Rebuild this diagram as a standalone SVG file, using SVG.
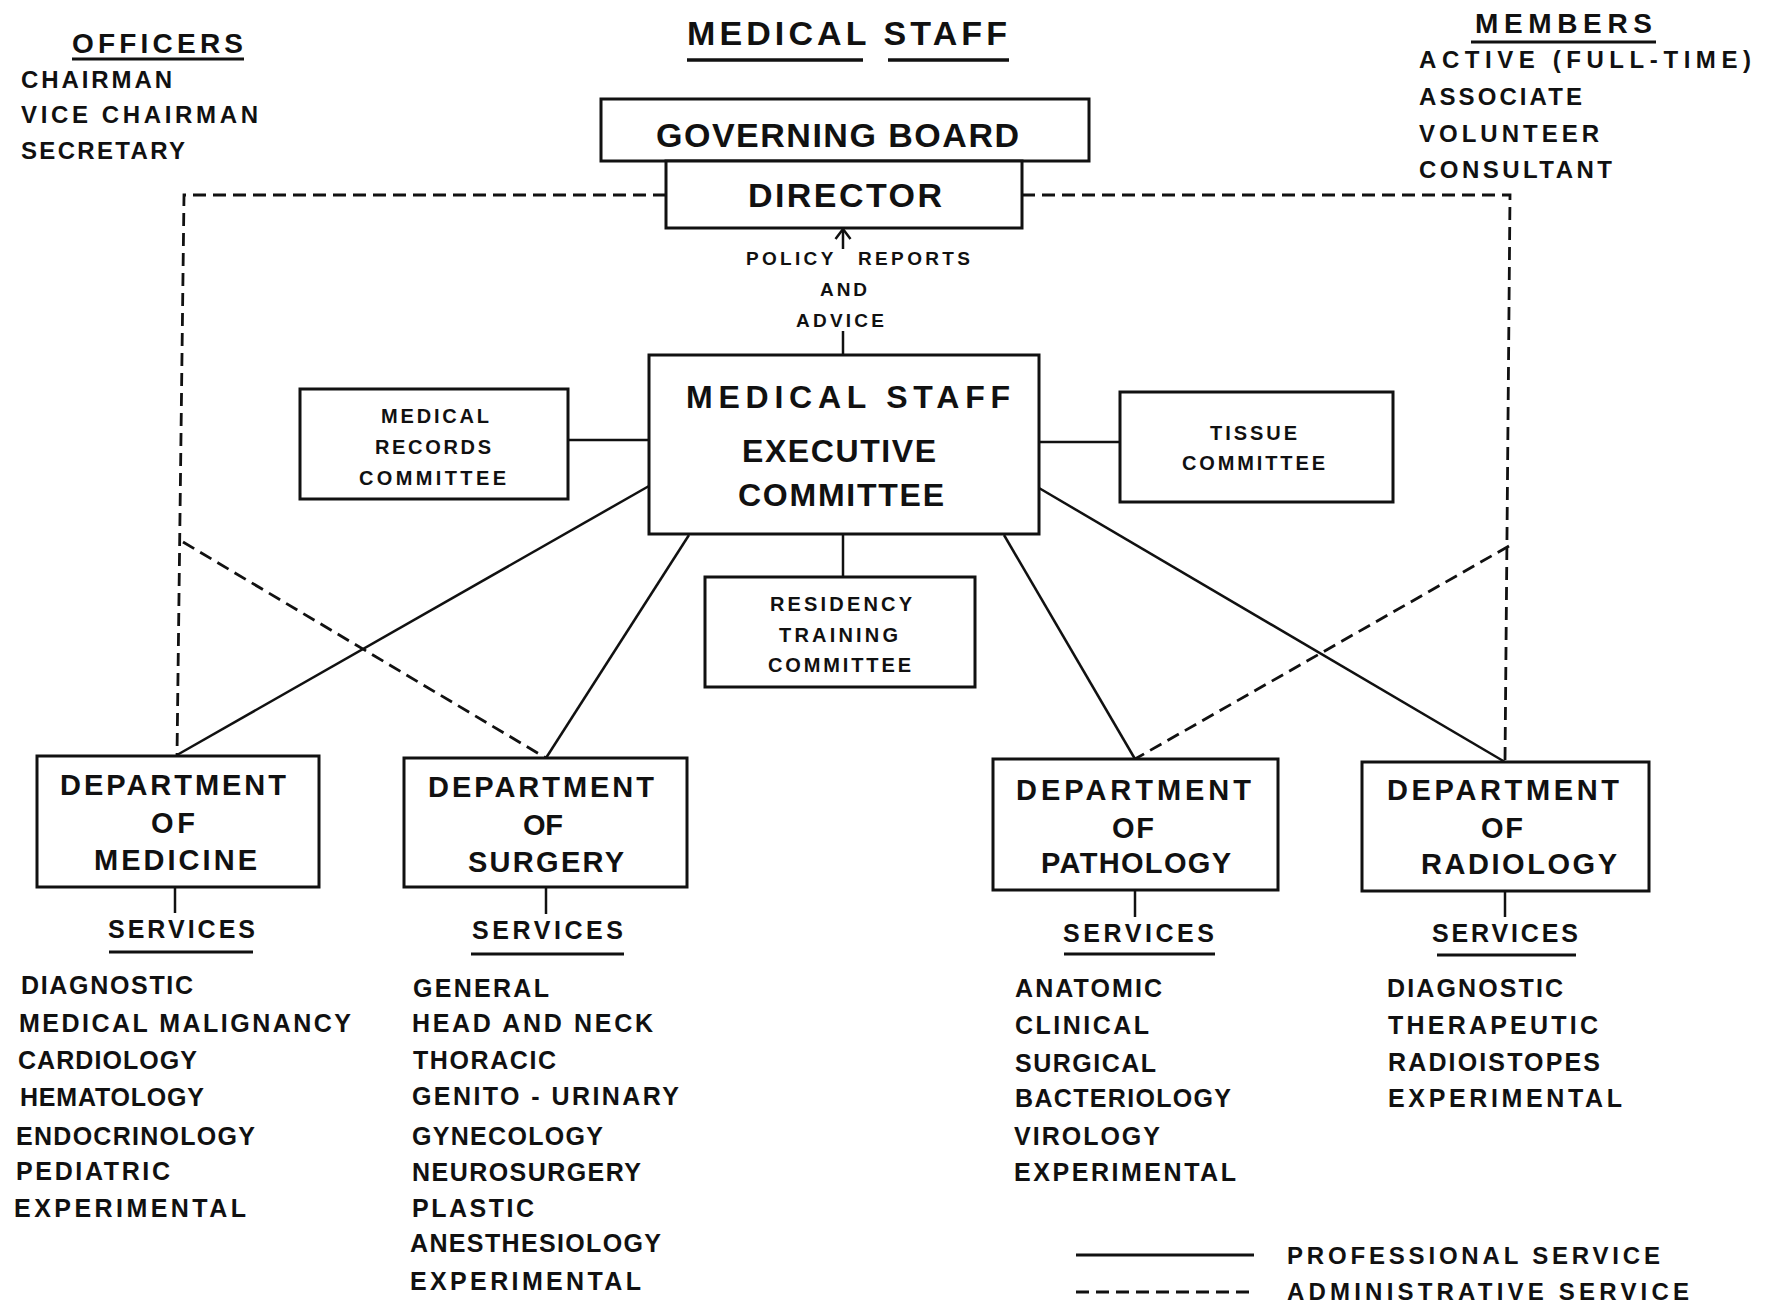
<svg xmlns="http://www.w3.org/2000/svg" width="1777" height="1302" viewBox="0 0 1777 1302">
<style>
text{font-family:"Liberation Sans",Arial,sans-serif;font-weight:bold;fill:#111}
.box{fill:#fff;stroke:#111;stroke-width:3}
.ln{stroke:#111;stroke-width:2.5;fill:none}
.dash{stroke:#111;stroke-width:2.8;fill:none;stroke-dasharray:13 7}
.ul{stroke:#111;stroke-width:3.5}
.t34{font-size:34px}.t32{font-size:32px}.t29{font-size:29px}.t28{font-size:28px}.t25{font-size:25px}.t24{font-size:24px}.t20{font-size:20px}.t19{font-size:19px}
</style>
<rect width="1777" height="1302" fill="#fff"/>

<g id="connectors">
<line class="ln" x1="649" y1="486" x2="177" y2="755"/>
<line class="ln" x1="689" y1="535" x2="546" y2="758"/>
<line class="ln" x1="1004" y1="535" x2="1135" y2="759"/>
<line class="ln" x1="1039" y1="488" x2="1505" y2="762"/>
<line class="ln" x1="568" y1="440" x2="649" y2="440"/>
<line class="ln" x1="1039" y1="442" x2="1120" y2="442"/>
<line class="ln" x1="843" y1="534" x2="843" y2="577"/>
<line class="ln" x1="843" y1="331" x2="843" y2="355"/>
<line class="ln" x1="843" y1="249" x2="843" y2="229"/>
<polyline class="ln" points="835.5,239 843,229 850.5,239"/>
<line class="ln" x1="175" y1="887" x2="175" y2="913"/>
<line class="ln" x1="546" y1="887" x2="546" y2="914"/>
<line class="ln" x1="1135" y1="890" x2="1135" y2="917"/>
<line class="ln" x1="1505" y1="891" x2="1505" y2="917"/>
<path class="dash" d="M666,195 H184 L177,756"/>
<path class="dash" d="M1022,195 H1510 L1505,762"/>
<line class="dash" x1="183" y1="542" x2="546" y2="758"/>
<line class="dash" x1="1509" y1="546" x2="1135" y2="759"/>
</g>

<g id="title">
<text class="t34" x="687" y="45" textLength="320" lengthAdjust="spacing">MEDICAL STAFF</text>
<line class="ul" x1="687" y1="60" x2="863" y2="60"/>
<line class="ul" x1="888" y1="60" x2="1009" y2="60"/>
</g>

<g id="officers">
<text class="t28" x="72" y="53" textLength="171" lengthAdjust="spacing">OFFICERS</text>
<line class="ul" x1="72" y1="59" x2="244" y2="59" style="stroke-width:3"/>
<text class="t24" x="21" y="88" textLength="151" lengthAdjust="spacing">CHAIRMAN</text>
<text class="t24" x="21" y="123" textLength="237" lengthAdjust="spacing">VICE CHAIRMAN</text>
<text class="t24" x="21" y="159" textLength="164" lengthAdjust="spacing">SECRETARY</text>
</g>

<g id="members">
<text class="t28" x="1475" y="33" textLength="177" lengthAdjust="spacing">MEMBERS</text>
<line class="ul" x1="1471" y1="42" x2="1656" y2="42" style="stroke-width:3"/>
<text class="t24" x="1419" y="68" textLength="332" lengthAdjust="spacing">ACTIVE (FULL-TIME)</text>
<text class="t24" x="1419" y="105" textLength="163" lengthAdjust="spacing">ASSOCIATE</text>
<text class="t24" x="1419" y="142" textLength="180" lengthAdjust="spacing">VOLUNTEER</text>
<text class="t24" x="1419" y="178" textLength="193" lengthAdjust="spacing">CONSULTANT</text>
</g>

<g id="governing-board">
<rect class="box" x="601" y="99" width="488" height="62"/>
<text class="t34" x="656" y="147" textLength="363" lengthAdjust="spacing">GOVERNING BOARD</text>
</g>

<g id="director">
<rect class="box" x="666" y="161" width="356" height="67"/>
<text class="t34" x="748" y="207" textLength="194" lengthAdjust="spacing">DIRECTOR</text>
</g>

<g id="policy-label">
<text class="t19" y="265"><tspan x="746" textLength="87" lengthAdjust="spacing">POLICY</tspan> <tspan x="858" textLength="112" lengthAdjust="spacing">REPORTS</tspan></text>
<text class="t19" x="820" y="296" textLength="47" lengthAdjust="spacing">AND</text>
<text class="t19" x="796" y="327" textLength="88" lengthAdjust="spacing">ADVICE</text>
</g>

<g id="executive-committee">
<rect class="box" x="649" y="355" width="390" height="179"/>
<text class="t32" x="686" y="408" textLength="324" lengthAdjust="spacing">MEDICAL STAFF</text>
<text class="t32" x="742" y="462" textLength="194" lengthAdjust="spacing">EXECUTIVE</text>
<text class="t32" x="738" y="506" textLength="206" lengthAdjust="spacing">COMMITTEE</text>
</g>

<g id="medical-records-committee">
<rect class="box" x="300" y="389" width="268" height="110"/>
<text class="t20" x="381" y="423" textLength="108" lengthAdjust="spacing">MEDICAL</text>
<text class="t20" x="375" y="454" textLength="116" lengthAdjust="spacing">RECORDS</text>
<text class="t20" x="359" y="485" textLength="147" lengthAdjust="spacing">COMMITTEE</text>
</g>

<g id="tissue-committee">
<rect class="box" x="1120" y="392" width="273" height="110"/>
<text class="t20" x="1210" y="440" textLength="87" lengthAdjust="spacing">TISSUE</text>
<text class="t20" x="1182" y="470" textLength="143" lengthAdjust="spacing">COMMITTEE</text>
</g>

<g id="residency-training-committee">
<rect class="box" x="705" y="577" width="270" height="110"/>
<text class="t20" x="770" y="611" textLength="142" lengthAdjust="spacing">RESIDENCY</text>
<text class="t20" x="779" y="642" textLength="119" lengthAdjust="spacing">TRAINING</text>
<text class="t20" x="768" y="672" textLength="143" lengthAdjust="spacing">COMMITTEE</text>
</g>

<g id="dept-medicine">
<rect class="box" x="37" y="756" width="282" height="131"/>
<text class="t29" x="60" y="795" textLength="226" lengthAdjust="spacing">DEPARTMENT</text>
<text class="t29" x="151" y="833" textLength="44" lengthAdjust="spacing">OF</text>
<text class="t29" x="94" y="870" textLength="163" lengthAdjust="spacing">MEDICINE</text>
</g>

<g id="dept-surgery">
<rect class="box" x="404" y="758" width="283" height="129"/>
<text class="t29" x="428" y="797" textLength="226" lengthAdjust="spacing">DEPARTMENT</text>
<text class="t29" x="523" y="835" textLength="40" lengthAdjust="spacing">OF</text>
<text class="t29" x="468" y="872" textLength="156" lengthAdjust="spacing">SURGERY</text>
</g>

<g id="dept-pathology">
<rect class="box" x="993" y="759" width="285" height="131"/>
<text class="t29" x="1016" y="800" textLength="235" lengthAdjust="spacing">DEPARTMENT</text>
<text class="t29" x="1112" y="838" textLength="42" lengthAdjust="spacing">OF</text>
<text class="t29" x="1041" y="873" textLength="190" lengthAdjust="spacing">PATHOLOGY</text>
</g>

<g id="dept-radiology">
<rect class="box" x="1362" y="762" width="287" height="129"/>
<text class="t29" x="1387" y="800" textLength="232" lengthAdjust="spacing">DEPARTMENT</text>
<text class="t29" x="1481" y="838" textLength="42" lengthAdjust="spacing">OF</text>
<text class="t29" x="1421" y="874" textLength="196" lengthAdjust="spacing">RADIOLOGY</text>
</g>

<g id="services-medicine">
<text class="t25" x="108" y="938" textLength="147" lengthAdjust="spacing">SERVICES</text>
<line class="ul" x1="109" y1="952" x2="253" y2="952" style="stroke-width:3"/>
<text class="t25" x="21" y="994" textLength="172" lengthAdjust="spacing">DIAGNOSTIC</text>
<text class="t25" x="19" y="1032" textLength="332" lengthAdjust="spacing">MEDICAL MALIGNANCY</text>
<text class="t25" x="18" y="1069" textLength="179" lengthAdjust="spacing">CARDIOLOGY</text>
<text class="t25" x="20" y="1106" textLength="184" lengthAdjust="spacing">HEMATOLOGY</text>
<text class="t25" x="16" y="1145" textLength="239" lengthAdjust="spacing">ENDOCRINOLOGY</text>
<text class="t25" x="16" y="1180" textLength="154" lengthAdjust="spacing">PEDIATRIC</text>
<text class="t25" x="14" y="1217" textLength="232" lengthAdjust="spacing">EXPERIMENTAL</text>
</g>

<g id="services-surgery">
<text class="t25" x="472" y="939" textLength="151" lengthAdjust="spacing">SERVICES</text>
<line class="ul" x1="471" y1="954" x2="624" y2="954" style="stroke-width:3"/>
<text class="t25" x="413" y="997" textLength="136" lengthAdjust="spacing">GENERAL</text>
<text class="t25" x="412" y="1032" textLength="241" lengthAdjust="spacing">HEAD AND NECK</text>
<text class="t25" x="413" y="1069" textLength="143" lengthAdjust="spacing">THORACIC</text>
<text class="t25" x="412" y="1105" textLength="267" lengthAdjust="spacing">GENITO - URINARY</text>
<text class="t25" x="412" y="1145" textLength="191" lengthAdjust="spacing">GYNECOLOGY</text>
<text class="t25" x="412" y="1181" textLength="229" lengthAdjust="spacing">NEUROSURGERY</text>
<text class="t25" x="412" y="1217" textLength="122" lengthAdjust="spacing">PLASTIC</text>
<text class="t25" x="410" y="1252" textLength="251" lengthAdjust="spacing">ANESTHESIOLOGY</text>
<text class="t25" x="410" y="1290" textLength="231" lengthAdjust="spacing">EXPERIMENTAL</text>
</g>

<g id="services-pathology">
<text class="t25" x="1063" y="942" textLength="151" lengthAdjust="spacing">SERVICES</text>
<line class="ul" x1="1064" y1="954" x2="1215" y2="954" style="stroke-width:3"/>
<text class="t25" x="1015" y="997" textLength="147" lengthAdjust="spacing">ANATOMIC</text>
<text class="t25" x="1015" y="1034" textLength="134" lengthAdjust="spacing">CLINICAL</text>
<text class="t25" x="1015" y="1072" textLength="141" lengthAdjust="spacing">SURGICAL</text>
<text class="t25" x="1015" y="1107" textLength="216" lengthAdjust="spacing">BACTERIOLOGY</text>
<text class="t25" x="1014" y="1145" textLength="146" lengthAdjust="spacing">VIROLOGY</text>
<text class="t25" x="1014" y="1181" textLength="222" lengthAdjust="spacing">EXPERIMENTAL</text>
</g>

<g id="services-radiology">
<text class="t25" x="1432" y="942" textLength="146" lengthAdjust="spacing">SERVICES</text>
<line class="ul" x1="1437" y1="955" x2="1576" y2="955" style="stroke-width:3"/>
<text class="t25" x="1387" y="997" textLength="176" lengthAdjust="spacing">DIAGNOSTIC</text>
<text class="t25" x="1388" y="1034" textLength="210" lengthAdjust="spacing">THERAPEUTIC</text>
<text class="t25" x="1388" y="1071" textLength="212" lengthAdjust="spacing">RADIOISTOPES</text>
<text class="t25" x="1388" y="1107" textLength="234" lengthAdjust="spacing">EXPERIMENTAL</text>
</g>

<g id="legend">
<line class="ln" x1="1076" y1="1255" x2="1254" y2="1255" style="stroke-width:3"/>
<line class="dash" x1="1076" y1="1292" x2="1254" y2="1292"/>
<text class="t24" x="1287" y="1264" textLength="373" lengthAdjust="spacing">PROFESSIONAL SERVICE</text>
<text class="t24" x="1287" y="1300" textLength="402" lengthAdjust="spacing">ADMINISTRATIVE SERVICE</text>
</g>
</svg>
